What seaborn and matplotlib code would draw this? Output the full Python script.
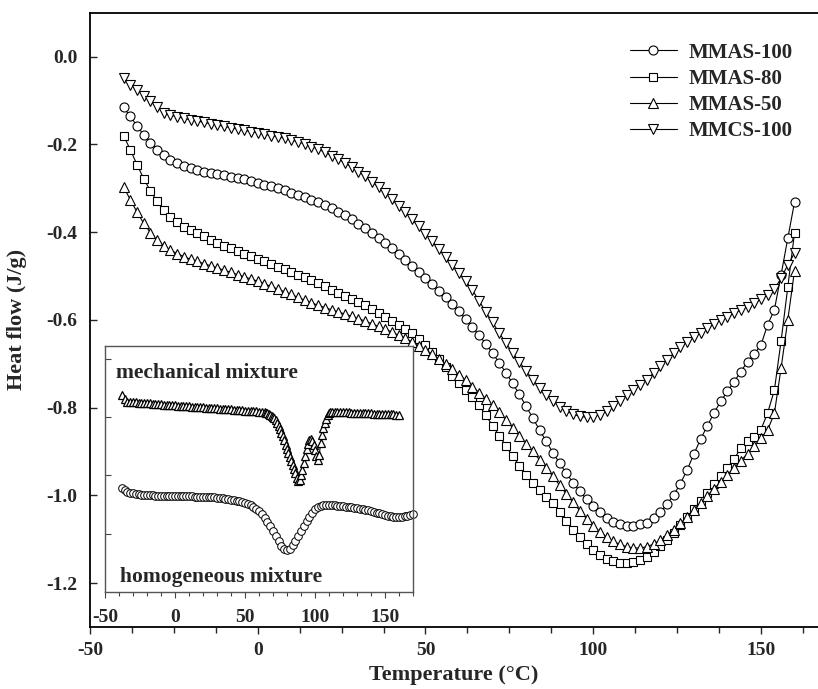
import numpy as np
import pandas as pd
import seaborn as sns
import matplotlib.pyplot as plt
from matplotlib.ticker import MultipleLocator, NullFormatter

# 主図：温度 (-40〜160 ℃, 2 ℃刻み)
temp = list(range(-40, 161, 2))

mmas100 = [-0.116, -0.136, -0.158, -0.178, -0.196, -0.212, -0.225, -0.235, -0.243, -0.249,
           -0.254, -0.258, -0.262, -0.265, -0.268, -0.271, -0.274, -0.277, -0.280, -0.284,
           -0.288, -0.292, -0.296, -0.300, -0.305, -0.310, -0.315, -0.320, -0.326, -0.332,
           -0.339, -0.346, -0.354, -0.362, -0.371, -0.381, -0.391, -0.402, -0.413, -0.425,
           -0.437, -0.450, -0.463, -0.477, -0.491, -0.505, -0.519, -0.534, -0.549, -0.565,
           -0.581, -0.598, -0.616, -0.635, -0.655, -0.676, -0.698, -0.721, -0.745, -0.770,
           -0.797, -0.824, -0.851, -0.877, -0.903, -0.927, -0.950, -0.971, -0.991, -1.009,
           -1.025, -1.039, -1.051, -1.060, -1.066, -1.069, -1.069, -1.066, -1.062, -1.052,
           -1.038, -1.020, -0.999, -0.973, -0.942, -0.906, -0.872, -0.842, -0.812, -0.786,
           -0.763, -0.741, -0.718, -0.695, -0.678, -0.657, -0.611, -0.577, -0.497, -0.414,
           -0.332]

mmas80 = [-0.180, -0.212, -0.246, -0.278, -0.306, -0.330, -0.350, -0.366, -0.378, -0.388,
          -0.396, -0.403, -0.410, -0.417, -0.424, -0.431, -0.437, -0.443, -0.449, -0.455,
          -0.461, -0.467, -0.473, -0.479, -0.485, -0.491, -0.497, -0.503, -0.510, -0.517,
          -0.524, -0.531, -0.538, -0.545, -0.552, -0.559, -0.567, -0.576, -0.585, -0.594,
          -0.603, -0.612, -0.621, -0.631, -0.643, -0.657, -0.673, -0.690, -0.708, -0.727,
          -0.744, -0.760, -0.775, -0.795, -0.818, -0.841, -0.864, -0.888, -0.911, -0.932,
          -0.953, -0.972, -0.988, -1.003, -1.018, -1.037, -1.058, -1.078, -1.096, -1.111,
          -1.124, -1.135, -1.144, -1.150, -1.154, -1.155, -1.153, -1.148, -1.140, -1.129,
          -1.116, -1.101, -1.085, -1.068, -1.050, -1.032, -1.013, -0.994, -0.975, -0.956,
          -0.937, -0.918, -0.891, -0.877, -0.866, -0.850, -0.812, -0.760, -0.648, -0.525,
          -0.402]

mmas50 = [-0.297, -0.326, -0.354, -0.380, -0.401, -0.418, -0.431, -0.441, -0.449, -0.456,
          -0.462, -0.467, -0.472, -0.477, -0.482, -0.487, -0.492, -0.497, -0.502, -0.507,
          -0.512, -0.518, -0.524, -0.530, -0.536, -0.542, -0.549, -0.555, -0.561, -0.567,
          -0.572, -0.577, -0.582, -0.587, -0.592, -0.597, -0.603, -0.609, -0.615, -0.621,
          -0.628, -0.635, -0.642, -0.650, -0.659, -0.668, -0.678, -0.689, -0.701, -0.713,
          -0.725, -0.738, -0.752, -0.766, -0.780, -0.795, -0.811, -0.828, -0.846, -0.864,
          -0.882, -0.900, -0.919, -0.938, -0.957, -0.977, -0.997, -1.016, -1.035, -1.053,
          -1.069, -1.083, -1.095, -1.105, -1.112, -1.117, -1.120, -1.120, -1.117, -1.111,
          -1.102, -1.091, -1.078, -1.064, -1.049, -1.033, -1.017, -1.001, -0.985, -0.969,
          -0.953, -0.937, -0.921, -0.905, -0.888, -0.870, -0.851, -0.813, -0.710, -0.600,
          -0.488]

mmcs100 = [-0.049, -0.064, -0.076, -0.089, -0.102, -0.116, -0.128, -0.133, -0.137, -0.141,
           -0.144, -0.147, -0.150, -0.153, -0.156, -0.159, -0.162, -0.165, -0.168, -0.171,
           -0.174, -0.177, -0.180, -0.183, -0.186, -0.190, -0.194, -0.199, -0.205, -0.211,
           -0.218, -0.226, -0.234, -0.243, -0.252, -0.262, -0.273, -0.285, -0.298, -0.311,
           -0.325, -0.340, -0.355, -0.371, -0.387, -0.404, -0.421, -0.438, -0.456, -0.474,
           -0.493, -0.512, -0.532, -0.557, -0.582, -0.606, -0.630, -0.653, -0.675, -0.696,
           -0.716, -0.737, -0.755, -0.771, -0.786, -0.798, -0.808, -0.815, -0.820, -0.822,
           -0.821, -0.816, -0.808, -0.797, -0.784, -0.772, -0.760, -0.748, -0.736, -0.721,
           -0.706, -0.691, -0.676, -0.662, -0.650, -0.639, -0.629, -0.619, -0.609, -0.601,
           -0.593, -0.585, -0.577, -0.570, -0.562, -0.553, -0.543, -0.530, -0.505, -0.475,
           -0.448]

# 挿入図：均一混合物
homo_temp = list(range(-38, 171, 2))
homo_flow = [1.780, 1.750, 1.720, 1.700, 1.690, 1.680, 1.675, 1.670, 1.665, 1.660,
             1.658, 1.656, 1.654, 1.652, 1.650, 1.649, 1.648, 1.647, 1.646, 1.645,
             1.644, 1.643, 1.642, 1.641, 1.640, 1.639, 1.638, 1.637, 1.636, 1.635,
             1.633, 1.631, 1.628, 1.625, 1.621, 1.616, 1.610, 1.603, 1.595, 1.586,
             1.576, 1.565, 1.553, 1.540, 1.525, 1.507, 1.485, 1.458, 1.425, 1.385,
             1.335, 1.275, 1.205, 1.125, 1.040, 0.955, 0.870, 0.795, 0.740, 0.720,
             0.740, 0.800, 0.880, 0.960, 1.040, 1.125, 1.210, 1.290, 1.360, 1.420,
             1.460, 1.480, 1.487, 1.490, 1.490, 1.488, 1.485, 1.481, 1.477, 1.472,
             1.466, 1.460, 1.453, 1.446, 1.438, 1.430, 1.421, 1.411, 1.400, 1.388,
             1.375, 1.362, 1.348, 1.334, 1.320, 1.308, 1.298, 1.291, 1.287, 1.287,
             1.290, 1.297, 1.307, 1.320, 1.335]

# 挿入図：機械的混合物
mech_temp = (list(range(-38, 65, 2)) + list(range(65, 113)) + list(range(114, 161, 2)))
mech_flow = [3.380, 3.310, 3.268, 3.258, 3.255, 3.251, 3.248, 3.244, 3.241, 3.237,
             3.234, 3.230, 3.227, 3.223, 3.220, 3.216, 3.213, 3.209, 3.206, 3.202,
             3.198, 3.195, 3.191, 3.188, 3.184, 3.181, 3.177, 3.174, 3.170, 3.166,
             3.163, 3.159, 3.156, 3.152, 3.149, 3.145, 3.142, 3.138, 3.135, 3.131,
             3.127, 3.124, 3.120, 3.117, 3.113, 3.110, 3.106, 3.102, 3.098, 3.094,
             3.089, 3.083,
             3.076, 3.067, 3.056, 3.043, 3.027, 3.006, 2.980, 2.945, 2.900, 2.850,
             2.795, 2.735, 2.670, 2.600, 2.530, 2.460, 2.390, 2.320, 2.250, 2.180,
             2.110, 2.040, 1.950, 1.900, 1.920, 2.000, 2.100, 2.220, 2.340, 2.450,
             2.540, 2.600, 2.620, 2.590, 2.520, 2.430, 2.330, 2.270, 2.350, 2.550,
             2.700, 2.820, 2.900, 2.970, 3.030, 3.065, 3.080, 3.087,
             3.090, 3.089, 3.087, 3.085, 3.083, 3.081, 3.079, 3.077, 3.075, 3.073,
             3.071, 3.068, 3.066, 3.064, 3.062, 3.060, 3.058, 3.055, 3.053, 3.051,
             3.049, 3.047, 3.045, 3.042]

# スタイル
sns.set_theme(style="ticks")
plt.rcParams['font.family'] = ['Liberation Serif', 'DejaVu Serif']
plt.rcParams['font.weight'] = 'bold'
plt.rcParams['axes.labelweight'] = 'bold'
plt.rcParams['axes.edgecolor'] = 'black'

fig = plt.figure(figsize=(8.18, 6.89), dpi=100)
ax = fig.add_axes([0.110, 0.090, 0.890, 0.8916])

series = [('MMAS-100', mmas100, 'o', 6.5),
          ('MMAS-80', mmas80, 's', 5.5),
          ('MMAS-50', mmas50, '^', 6.5),
          ('MMCS-100', mmcs100, 'v', 6.5)]
for name, vals, mk, ms in series:
    sns.lineplot(x=temp, y=vals, ax=ax, color='black', lw=0.8, marker=mk, ms=ms,
                 mfc='white', mec='black', mew=0.8, label=name, sort=False)

ax.set_xlim(-50, 167)
ax.set_ylim(-1.3, 0.1)
ax.set_yticks([0.0, -0.2, -0.4, -0.6, -0.8, -1.0, -1.2])
ax.set_yticklabels(['0.0', '-0.2', '-0.4', '-0.6', '-0.8', '-1.0', '-1.2'])
ax.set_xticks([-50, 0, 50, 100, 150])
ax.set_xticklabels(['-50', '0', '50', '100', '150'])
ax.xaxis.set_minor_locator(MultipleLocator(12.5))
ax.tick_params(axis='x', which='major', direction='out', length=5, width=1, labelsize=14, pad=6)
ax.tick_params(axis='x', which='minor', direction='out', length=4, width=1)
ax.tick_params(axis='y', direction='in', length=5, width=1, labelsize=14, pad=9)
for s in ['left', 'bottom', 'top']:
    ax.spines[s].set_linewidth(1.3)
ax.spines['right'].set_visible(False)
ax.set_xlabel('Temperature (°C)', fontsize=16, labelpad=4)
ax.set_ylabel('Heat flow (J/g)', fontsize=16, labelpad=14)

leg = ax.legend(loc='upper right', bbox_to_anchor=(1.0, 0.992), frameon=False, fontsize=15,
                handlelength=2.3, handletextpad=0.55, labelspacing=0.3, borderaxespad=0.8)

# 挿入図
ins = fig.add_axes([0.1284, 0.1408, 0.3765, 0.357])
ins.set_facecolor('white')
sns.lineplot(x=mech_temp, y=mech_flow, ax=ins, color='black', lw=0.8, marker='^', ms=6,
             mfc='white', mec='black', mew=0.9, sort=False, legend=False)
sns.lineplot(x=homo_temp, y=homo_flow, ax=ins, color='black', lw=0.6, marker='o', ms=5.5,
             mfc='white', mec='black', mew=0.7, sort=False, legend=False, clip_on=False)
ins.set_xlim(-50, 170)
ins.set_ylim(0, 4.22)
ins.set_xticks([-50, 0, 50, 100, 150])
ins.set_xticklabels(['-50', '0', '50', '100', '150'])
ins.xaxis.set_minor_locator(MultipleLocator(10))
ins.set_yticks([1, 2, 3, 4])
ins.yaxis.set_major_formatter(NullFormatter())
ins.tick_params(axis='x', which='major', direction='out', length=4, width=0.8, labelsize=14,
                pad=8, color='#444444')
ins.tick_params(axis='x', which='minor', direction='out', length=3, width=0.8, color='#444444')
ins.tick_params(axis='y', direction='in', length=4, width=0.8, color='#444444')
for s in ins.spines.values():
    s.set_color('#555555')
    s.set_linewidth(1.0)
ins.set_xlabel('')
ins.set_ylabel('')
ins.text(-42, 3.76, 'mechanical mixture', fontsize=15.5, fontweight='bold', va='center', ha='left')
ins.text(-39.5, 0.26, 'homogeneous mixture', fontsize=15.5, fontweight='bold', va='center', ha='left')

fig.savefig('out.png', dpi=100)
